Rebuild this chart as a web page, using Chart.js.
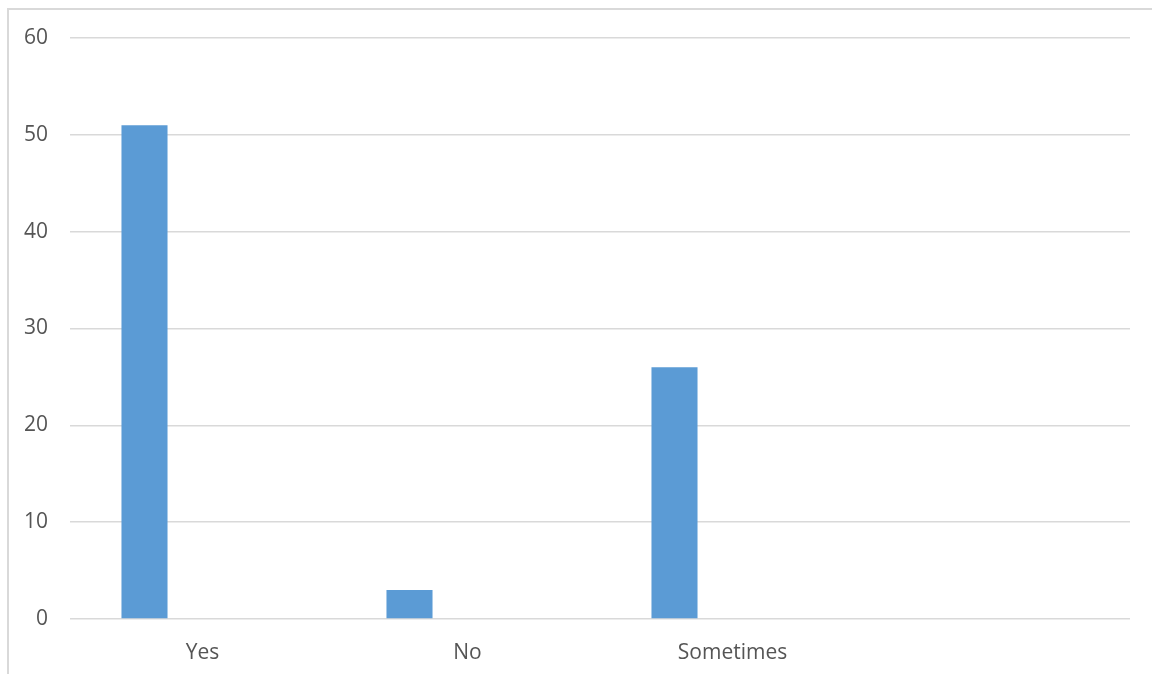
<!DOCTYPE html>
<html>
<head>
<meta charset="utf-8">
<script src="https://cdn.jsdelivr.net/npm/chart.js@4"></script>
<style>
    html, body { margin: 0; padding: 0; background: #ffffff; overflow: hidden; }
    #wrap { position: relative; width: 1152px; height: 674px; }
    #frame {
        position: absolute; left: 7px; top: 8px; width: 1200px; height: 700px;
        border-top: 2px solid #d9d9d9; border-left: 2px solid #d9d9d9;
        box-sizing: border-box; pointer-events: none;
    }
    #chart { position: absolute; left: 0; top: 0; }
</style>
</head>
<body>
<div id="wrap">
    <div id="frame"></div>
    <canvas id="chart" width="1152" height="674"></canvas>
</div>
<script>
// Survey answers (fourth category is left blank in the sheet)
const categories = ['Yes', 'No', 'Sometimes', ''];
const series1 = [51, 3, 26, null];
const series2 = [null, null, null, null]; // empty second column
const yTicks = [0, 10, 20, 30, 40, 50, 60];

const labelFont = { family: 'Open Sans', size: 21 };
const textColor = '#555555';

new Chart(document.getElementById('chart'), {
    type: 'bar',
    data: {
        labels: categories,
        datasets: [
            {
                label: 'Series1',
                data: series1,
                backgroundColor: '#5b9bd5',
                borderWidth: 0,
                categoryPercentage: 0.8755,
                barPercentage: 0.397
            },
            {
                label: 'Series2',
                data: series2,
                backgroundColor: '#ed7d31',
                borderWidth: 0,
                categoryPercentage: 0.8755,
                barPercentage: 0.397
            }
        ]
    },
    options: {
        responsive: false,
        animation: false,
        layout: { padding: { left: 0, right: 22, top: 38, bottom: 0 } },
        plugins: {
            legend: { display: false },
            tooltip: { enabled: false }
        },
        scales: {
            x: {
                grid: { display: false },
                border: { display: false },
                ticks: { color: textColor, font: labelFont, padding: 13, maxRotation: 0 },
                afterFit: function(scale) { scale.height = 55; }
            },
            y: {
                min: 0,
                max: 60,
                afterBuildTicks: function(scale) {
                    scale.ticks = yTicks.map(v => ({ value: v }));
                },
                grid: { color: '#d9d9d9', lineWidth: 1.5, drawTicks: false },
                border: { display: false },
                ticks: { color: textColor, font: labelFont, padding: 22 },
                afterFit: function(scale) { scale.width = 70; }
            }
        }
    }
});
</script>
</body>
</html>
